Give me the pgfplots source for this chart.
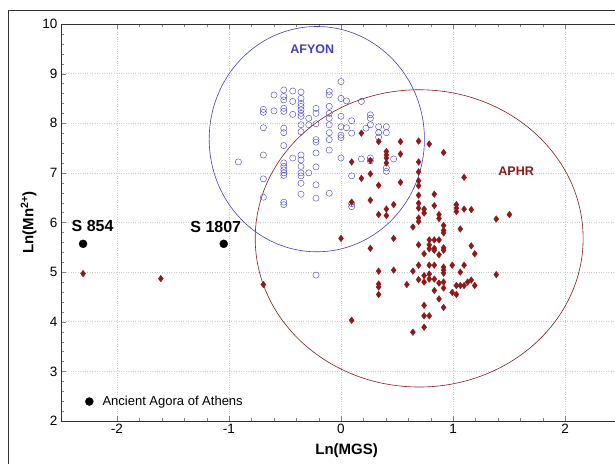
\documentclass[border=0pt]{standalone}
\usepackage{fontspec}
\setmainfont{Liberation Sans}
\usepackage{pgfplots}
\pgfplotsset{compat=1.18}
\definecolor{afy}{HTML}{4040C0}
\definecolor{aph}{HTML}{8B1A1A}

\begin{document}
\begin{tikzpicture}
\begin{axis}[
  name=ax,
  scale only axis, width=571.2pt, height=397pt,
  xmin=-2.5, xmax=2.6, ymin=2, ymax=10,
  xtick={-2,-1,0,1,2}, ytick={2,3,...,10},
  minor x tick num=4, minor y tick num=4,
  tick align=inside,
  axis x line*=box, axis y line*=left,
  x axis line style={-}, y axis line style={-},
  major tick length=5pt, minor tick length=3pt,
  grid=major, grid style={gray!40, dotted, line width=0.6pt},
  axis line style={black!80},
  ticklabel style={font=\fontsize{13.5}{13.5}\selectfont},
  /pgf/number format/assume math mode=true,
  xlabel={\textbf{Ln(MGS)}},
  ylabel={\textbf{Ln(Mn\textsuperscript{2+})}},
  label style={font=\fontsize{15}{15}\selectfont},
  xlabel style={yshift=-3pt},
  ylabel style={yshift=-1pt},
  clip=false,
  legend style={at={(axis description cs:0.037,0.049)}, anchor=west,
    draw=none, fill=none, font=\fontsize{13}{13}\selectfont},
  legend image code/.code={\draw[mark=*, mark size=4pt, black] plot coordinates {(0cm,0cm)}; \path (11pt,0pt);},
]
% AFYON
\addplot[only marks, mark=o, mark size=3.1pt, afy, forget plot] coordinates {
(0,8.84) (0.049,8.45) (0,8.50) (0.182,8.44)
(-0.598,8.57) (-0.511,8.67) (-0.511,8.54) (-0.431,8.65) (-0.357,8.63) (-0.357,8.50)
(-0.511,8.47) (-0.431,8.44)
(-0.693,8.28) (-0.693,8.22) (-0.598,8.25) (-0.511,8.30) (-0.511,8.24) (-0.431,8.18)
(-0.357,8.40) (-0.357,8.34) (-0.357,8.27) (-0.357,8.20) (-0.357,8.14)
(-0.223,8.30) (-0.223,8.20) (-0.105,8.64) (-0.105,8.57) (-0.105,8.34) (-0.105,8.20)
(-0.288,8.10) (-0.288,7.97) (-0.223,7.99) (-0.357,7.97) (-0.357,7.83)
(-0.105,8.10) (-0.105,7.97) (0,8.14) (0,7.93) (0.049,7.91) (0.095,8.05) (-0.105,7.81)
(0,7.76) (0,7.71) (0.095,7.80)
(0.262,8.17) (0.262,8.10) (0.262,7.97) (0.223,7.90) (0.336,7.93) (0.336,7.81)
(0.405,7.93) (0.405,7.81) (0.336,7.72)
(-0.693,7.91) (-0.511,7.90) (-0.511,7.81) (-0.223,7.67) (-0.223,7.62) (-0.105,7.67)
(-0.105,7.46) (-0.223,7.40) (0,7.30)
(-0.511,7.55) (-0.693,7.36) (-0.431,7.30) (-0.357,7.36) (-0.357,7.26) (-0.357,7.13)
(-0.511,7.20) (-0.511,7.13) (-0.511,7.06) (-0.511,7.00) (-0.511,6.95) (-0.223,7.12)
(-0.357,7.00) (-0.357,6.94) (-0.357,6.79) (-0.357,6.57) (-0.223,6.76) (-0.223,6.49)
(-0.105,6.59) (-0.288,7.00)
(-0.916,7.22) (-0.693,6.88) (-0.693,6.51) (-0.511,6.41) (-0.511,6.36)
(0.182,7.28) (0.262,7.30) (0.262,7.24) (0.405,7.10) (0.405,7.03) (0.470,7.28)
(0.095,6.94) (0.095,6.32) (0.095,6.38)
(-0.223,4.94)
};
% APHR
\addplot[only marks, mark=diamond*, mark size=3.3pt, aph, forget plot] coordinates {
(-2.303,4.97) (-1.609,4.87) (-0.693,4.75)
(0.182,7.80) (0.336,7.63) (0.531,7.63) (0.693,7.64) (0.788,7.58)
(0.405,7.43) (0.405,7.36) (0.405,7.30) (0.531,7.38) (0.916,7.41) (0.405,7.20)
(0.095,7.22) (0.262,7.25) (0.693,7.22)
(0.262,6.98) (0.182,6.89) (0.336,6.75) (0.531,6.81) (0.693,7.02) (0.693,6.84) (0.693,6.74)
(1.099,6.91)
(0.693,6.55) (0.833,6.57) (0.095,6.41) (0.262,6.45) (0.470,6.36) (0.693,6.39) (0.693,6.29)
(0.742,6.27) (0.742,6.19) (0.833,6.34) (0.875,6.16) (0.875,6.08) (0.336,6.16) (0.405,6.27)
(0.405,6.14) (1.030,6.36) (1.030,6.29) (1.030,6.22) (1.099,6.27) (1.163,6.26)
(1.386,6.07) (1.504,6.16)
(0.693,6.09) (0.693,6.02) (0.642,5.91) (0.916,5.94) (0.916,5.84) (0.916,5.79) (1.065,5.87)
(0,5.68) (0.470,5.68) (0.262,5.48) (0.693,5.55) (0.742,5.37) (0.788,5.65) (0.833,5.65)
(0.875,5.65) (0.788,5.55) (0.788,5.47) (0.833,5.48) (0.833,5.44) (0.875,5.35) (0.916,5.49)
(0.916,5.44) (1.163,5.53) (1.194,5.37)
(0.336,5.02) (0.470,5.04) (0.642,5.02) (0.693,5.14) (0.788,5.14) (0.833,5.14) (0.916,5.10)
(0.916,5.04) (0.916,4.98) (0.993,5.14) (1.065,5.00) (1.099,5.14) (1.386,4.95)
(0.742,4.93) (0.788,4.96) (0.693,4.85) (0.742,4.80) (0.788,4.86) (0.833,4.86) (0.875,4.78)
(0.916,4.80) (0.916,4.68) (0.588,4.75) (0.336,4.76) (0.336,4.70) (0.336,4.55) (0.833,4.63)
(0.875,4.46) (0.916,4.29) (0.993,4.59) (1.030,4.55) (1.030,4.73) (1.065,4.73) (1.099,4.73)
(1.131,4.80) (1.163,4.84) (1.194,4.73)
(0.742,4.33) (0.742,4.12) (0.788,4.12) (0.742,3.89) (0.642,3.79)
(0.095,4.03)
};
% Ancient Agora of Athens
\addplot[only marks, mark=*, mark size=4pt, black] coordinates {(-2.303,5.57) (-1.047,5.57)};
\addlegendentry{Ancient Agora of Athens}

\draw[afy, semithick] (axis cs:-0.216,7.68) ellipse [x radius=0.961, y radius=2.27];
\draw[aph, semithick] (axis cs:0.698,5.68) ellipse [x radius=1.464, y radius=2.995];

\node[afy, font=\bfseries\fontsize{12.5}{12.5}\selectfont] at (axis cs:-0.257,9.49) {AFYON};
\node[aph, font=\bfseries\fontsize{12.5}{12.5}\selectfont] at (axis cs:1.564,7.03) {APHR};
\node[font=\bfseries\fontsize{16}{16}\selectfont] at (axis cs:-2.218,5.93) {S 854};
\node[font=\bfseries\fontsize{16}{16}\selectfont] at (axis cs:-1.118,5.90) {S 1807};
\end{axis}
\pgfresetboundingbox
\useasboundingbox ([xshift=-61pt, yshift=-42pt]ax.south west) rectangle ([xshift=-61pt+615pt, yshift=24pt]ax.north west);
\draw[black!80, line width=0.8pt] ([xshift=-53pt, yshift=-50pt]ax.south west) -- ([xshift=-53pt, yshift=14pt]ax.north west) -- ([xshift=600pt, yshift=14pt]ax.north west);
\end{tikzpicture}
\end{document}
